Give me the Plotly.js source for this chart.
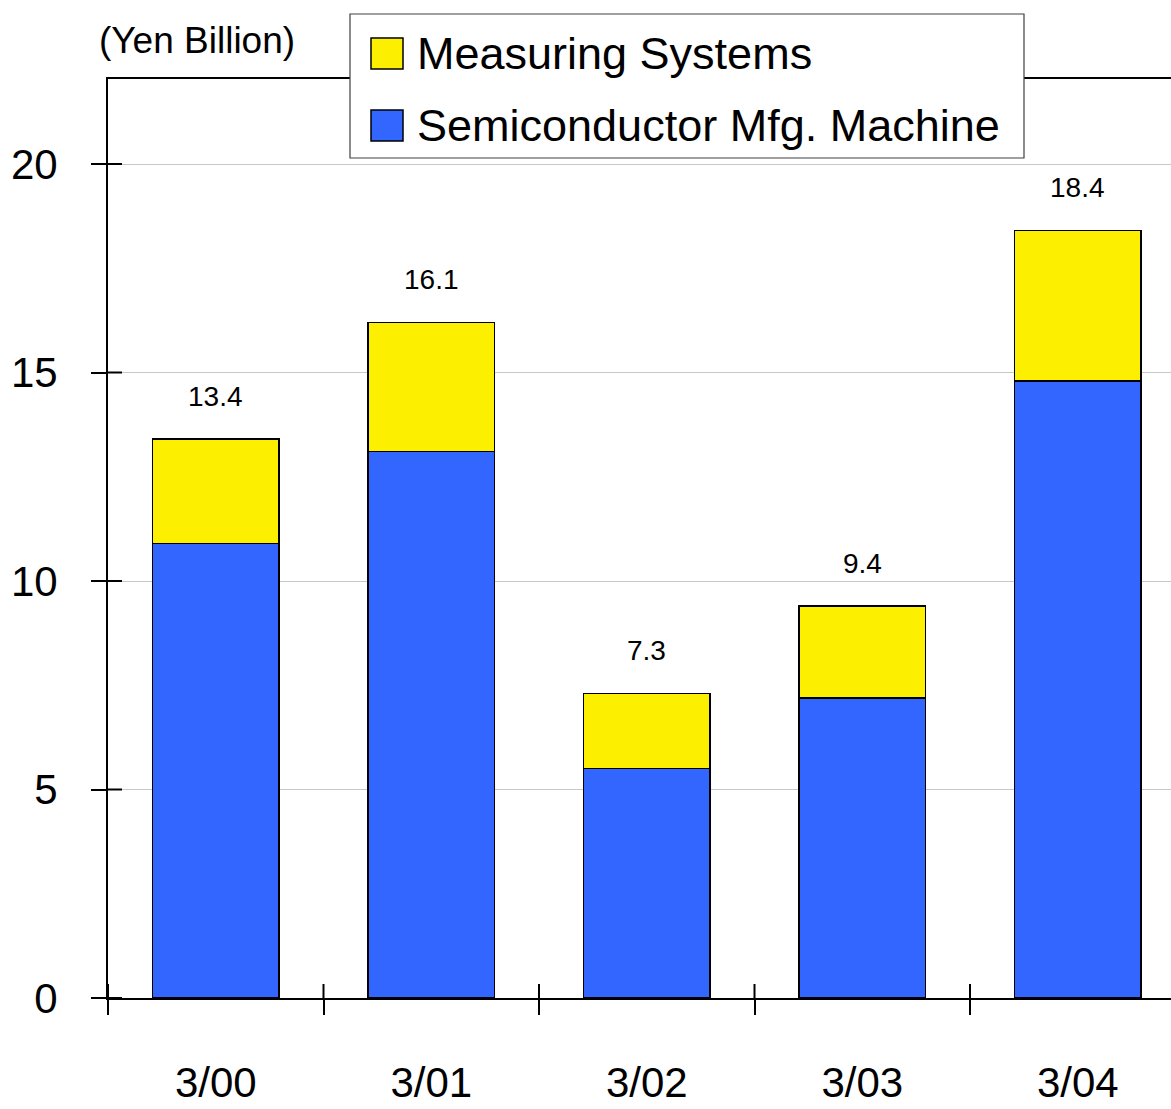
<!DOCTYPE html>
<html>
<head>
<meta charset="utf-8">
<script src="https://cdn.plot.ly/plotly-3.0.1.min.js"></script>
<style>
  html, body { margin: 0; padding: 0; background: #ffffff; overflow: hidden; }
  #chart { width: 1171px; height: 1109px; }
</style>
</head>
<body>
<div id="chart"></div>
<script>
// ---- data ----
const categories = ['3/00', '3/01', '3/02', '3/03', '3/04'];
const semiconductor = [10.9, 13.1, 5.5, 7.2, 14.8];
const measuring = [2.5, 3.1, 1.8, 2.2, 3.6];
const totalLabels = ['13.4', '16.1', '7.3', '9.4', '18.4'];
const yTicks = [0, 5, 10, 15, 20];
const seriesNames = ['Measuring Systems', 'Semiconductor Mfg. Machine'];
const unitLabel = '(Yen Billion)';

// ---- layout geometry ----
const W = 1171, H = 1109;
const M = { l: 108, r: 0, t: 79, b: 111 };
const PW = W - M.l - M.r, PH = H - M.t - M.b;
const px = x => (x - M.l) / PW;          // pixel -> paper x
const py = y => (H - M.b - y) / PH;      // pixel -> paper y

const FONT = 'Liberation Sans, Arial, Helvetica, sans-serif';
const YELLOW = '#FCF000';
const BLUE = '#3366FF';

const traces = [
  {
    type: 'bar', name: seriesNames[1], x: categories, y: semiconductor,
    marker: { color: BLUE, line: { color: '#000000', width: 1.5 } },
    width: 0.585, hoverinfo: 'skip'
  },
  {
    type: 'bar', name: seriesNames[0], x: categories, y: measuring,
    marker: { color: YELLOW, line: { color: '#000000', width: 1.5 } },
    width: 0.585, hoverinfo: 'skip'
  }
];

const shapes = [];
const annotations = [];

// inner halves of the crossing tick marks
const xBounds = categories.map((c, i) => i - 0.5);
xBounds.forEach(v => shapes.push({
  type: 'line', xref: 'x', yref: 'paper', x0: v, x1: v, y0: 0, y1: 14 / PH,
  line: { color: '#000000', width: 2 }, layer: 'above'
}));
yTicks.forEach(v => shapes.push({
  type: 'line', xref: 'paper', yref: 'y', x0: 0, x1: 14 / PW, y0: v, y1: v,
  line: { color: '#000000', width: 2 }, layer: 'above'
}));

// custom legend box
shapes.push({
  type: 'rect', xref: 'paper', yref: 'paper',
  x0: px(350), x1: px(1024), y0: py(158), y1: py(14),
  fillcolor: '#ffffff', line: { color: '#404040', width: 1.2 }, layer: 'above'
});
const legendColors = [YELLOW, BLUE];
const legendRows = [[38, 69], [110, 141]];
seriesNames.forEach((name, i) => {
  const [t, b] = legendRows[i];
  shapes.push({
    type: 'rect', xref: 'paper', yref: 'paper',
    x0: px(371), x1: px(403), y0: py(b), y1: py(t),
    fillcolor: legendColors[i], line: { color: '#000000', width: 1.5 }, layer: 'above'
  });
  annotations.push({
    xref: 'paper', yref: 'paper', x: px(415), y: py((t + b) / 2),
    xanchor: 'left', yanchor: 'middle', showarrow: false,
    text: name, font: { family: FONT, size: 45, color: '#000000' }
  });
});

// unit label
annotations.push({
  xref: 'paper', yref: 'paper', x: px(97), y: py(40),
  xanchor: 'left', yanchor: 'middle', showarrow: false,
  text: unitLabel, font: { family: FONT, size: 37, color: '#000000' }
});

// total labels above the stacks
categories.forEach((c, i) => {
  annotations.push({
    xref: 'x', yref: 'y', x: c, y: semiconductor[i] + measuring[i],
    yanchor: 'middle', yshift: 43, showarrow: false,
    text: totalLabels[i], font: { family: FONT, size: 28, color: '#000000' }
  });
});

const layout = {
  width: W, height: H,
  margin: M,
  paper_bgcolor: '#ffffff', plot_bgcolor: '#ffffff',
  barmode: 'stack',
  showlegend: false,
  font: { family: FONT, color: '#000000' },
  xaxis: {
    type: 'category',
    range: [-0.5, -0.5 + PW / 215.5],
    showline: true, linecolor: '#000000', linewidth: 2, mirror: true,
    ticks: 'outside', tickson: 'boundaries', ticklen: 15, tickwidth: 2, tickcolor: '#000000',
    ticklabelstandoff: 47,
    tickfont: { family: FONT, size: 42, color: '#000000' },
    showgrid: false, zeroline: false, fixedrange: true
  },
  yaxis: {
    range: [0, PH / 41.7],
    tickvals: yTicks, ticktext: yTicks.map(String),
    showline: true, linecolor: '#000000', linewidth: 2,
    ticks: 'outside', ticklen: 15, tickwidth: 2, tickcolor: '#000000',
    ticklabelstandoff: 25,
    tickfont: { family: FONT, size: 42, color: '#000000' },
    showgrid: true, gridcolor: '#c8c8c8', gridwidth: 1,
    zeroline: false, fixedrange: true
  },
  shapes: shapes,
  annotations: annotations
};

Plotly.newPlot('chart', traces, layout, { staticPlot: true, displayModeBar: false });
</script>
</body>
</html>
